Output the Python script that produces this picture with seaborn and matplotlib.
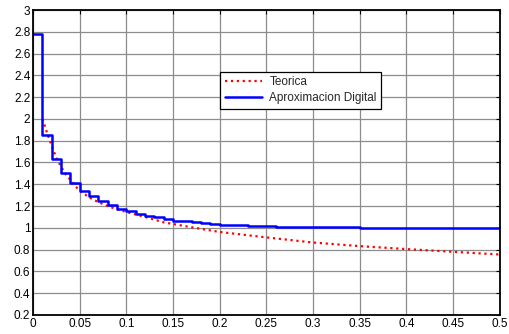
import numpy as np
import pandas as pd
import matplotlib
matplotlib.use("Agg")
import matplotlib.pyplot as plt
import seaborn as sns

# Theoretical response (red dotted)
t_teo = [0.01, 0.015, 0.02, 0.025, 0.03, 0.035, 0.04, 0.045, 0.05, 0.06, 0.07,
         0.08, 0.09, 0.10, 0.12, 0.14, 0.16, 0.18, 0.20, 0.25, 0.30, 0.35,
         0.40, 0.45, 0.50]
y_teo = [2.00, 1.87, 1.75, 1.64, 1.56, 1.49, 1.44, 1.385, 1.34, 1.28, 1.235,
         1.20, 1.17, 1.145, 1.10, 1.05, 1.02, 0.99, 0.962, 0.912, 0.865, 0.832,
         0.805, 0.78, 0.755]

# Digital approximation (blue staircase), step start times and held levels
t_dig = [0.00, 0.01, 0.02, 0.03, 0.04, 0.05, 0.06, 0.07, 0.08, 0.09, 0.10,
         0.11, 0.12, 0.13, 0.14, 0.15, 0.17, 0.18, 0.19, 0.20, 0.23, 0.26,
         0.35, 0.50]
y_dig = [2.78, 1.855, 1.63, 1.50, 1.41, 1.342, 1.293, 1.245, 1.213, 1.175, 1.15,
         1.128, 1.111, 1.096, 1.08, 1.065, 1.053, 1.044, 1.035, 1.027, 1.019, 1.012,
         1.00, 1.00]

x_ticks = [0, 0.05, 0.1, 0.15, 0.2, 0.25, 0.3, 0.35, 0.4, 0.45, 0.5]
x_labels = ["0", "0.05", "0.1", "0.15", "0.2", "0.25", "0.3", "0.35", "0.4", "0.45", "0.5"]
y_ticks = [0.2, 0.4, 0.6, 0.8, 1.0, 1.2, 1.4, 1.6, 1.8, 2.0, 2.2, 2.4, 2.6, 2.8, 3.0]
y_labels = ["0.2", "0.4", "0.6", "0.8", "1", "1.2", "1.4", "1.6", "1.8", "2",
            "2.2", "2.4", "2.6", "2.8", "3"]

sns.set_style("white")
plt.rcParams["font.family"] = ["Liberation Sans", "DejaVu Sans"]

fig = plt.figure(figsize=(5.10, 3.34), dpi=100)
ax = fig.add_axes([0.065, 0.057, 0.915, 0.913])

df_teo = pd.DataFrame({"t": t_teo, "y": y_teo})
df_dig = pd.DataFrame({"t": t_dig, "y": y_dig})

sns.lineplot(data=df_teo, x="t", y="y", ax=ax, color="#ff0000", linestyle=":",
             linewidth=1.6, estimator=None, sort=False, label="Teorica")
sns.lineplot(data=df_dig, x="t", y="y", ax=ax, color="#0000ff", linewidth=1.8,
             drawstyle="steps-post", estimator=None, sort=False,
             label="Aproximacion Digital")

ax.set_xlim(0, 0.5)
ax.set_ylim(0.2, 3.0)
ax.set_xticks(x_ticks)
ax.set_xticklabels(x_labels)
ax.set_yticks(y_ticks)
ax.set_yticklabels(y_labels)
ax.set_xlabel("")
ax.set_ylabel("")

ax.grid(True, color="#8c8c8c", linewidth=0.9, linestyle="-")
ax.set_axisbelow(True)
ax.tick_params(axis="both", which="both", direction="in", length=3, width=0.8,
               top=True, right=True, labelsize=8.5, pad=2, colors="black")
for s in ax.spines.values():
    s.set_visible(True)
    s.set_color("black")
    s.set_linewidth(1.3)

leg = ax.legend(loc="upper left", bbox_to_anchor=(0.4, 0.798), fontsize=8.5,
                frameon=True, fancybox=False, framealpha=1, edgecolor="black",
                borderpad=0.4, handlelength=3.2, labelspacing=0.3,
                handletextpad=0.6, borderaxespad=0)
leg.get_frame().set_linewidth(0.9)

fig.savefig("out.png", dpi=100)
